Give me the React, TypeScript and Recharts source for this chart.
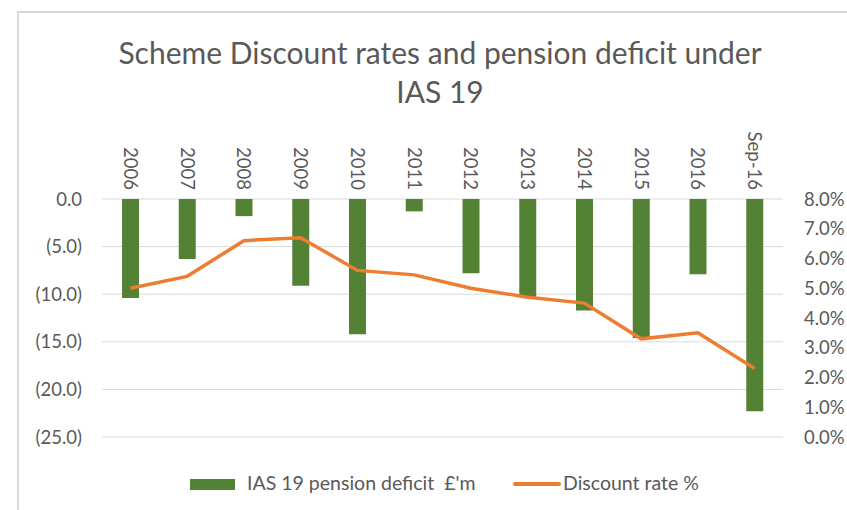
import React from 'react';
import { ComposedChart, Bar, Line, XAxis, YAxis, CartesianGrid } from 'recharts';

const years = ['2006', '2007', '2008', '2009', '2010', '2011', '2012', '2013', '2014', '2015', '2016', 'Sep-16'];
const deficit = [-10.4, -6.3, -1.8, -9.1, -14.2, -1.3, -7.8, -10.3, -11.7, -14.6, -7.9, -22.3];
const discountRate = [5.0, 5.4, 6.6, 6.7, 5.6, 5.45, 5.0, 4.7, 4.5, 3.3, 3.5, 2.3];
const leftTicks = [0, -5, -10, -15, -20, -25];
const rightTicks = [0, 1, 2, 3, 4, 5, 6, 7, 8];

const FONT = 'Lato, "Open Sans", sans-serif';
const GREY = '#595959';
const GREEN = '#548235';
const ORANGE = '#ED7D31';

const chartData = years.map((year, i) => ({
  year,
  deficit: deficit[i],
  rate: discountRate[i],
}));

const fmtLeft = (v: number) => (v === 0 ? '0.0' : `(${Math.abs(v).toFixed(1)})`);
const fmtRight = (v: number) => `${v.toFixed(1)}%`;

const TopTick = ({ x, y, payload }: any) => (
  <g transform={`translate(${x},${y - 9})`}>
    <text transform="rotate(90)" textAnchor="end" dy="0.35em" fill={GREY} fontSize={18.5} fontFamily={FONT}>
      {payload.value}
    </text>
  </g>
);

const App = () => {
  const tickStyle = { fill: GREY, fontSize: 18.5, fontFamily: FONT };
  return (
    <div style={{ position: 'absolute', left: 0, top: 0, width: 847, height: 510, background: '#fff', overflow: 'hidden' }}>
      <div style={{ position: 'absolute', left: 17, top: 11, width: 840, height: 510, borderLeft: '2px solid #d9d9d9', borderTop: '2px solid #d9d9d9' }} />
      <div style={{ position: 'absolute', left: 0, top: 33, width: 880, textAlign: 'center', color: GREY, fontFamily: FONT, fontSize: 30, lineHeight: '39px' }}>
        Scheme Discount rates and pension deficit under
        <br />
        IAS 19
      </div>
      <ComposedChart width={847} height={510} data={chartData} margin={{ top: 119, right: 0, bottom: 73, left: 0 }} style={{ position: 'absolute', left: 0, top: 0 }}>
        <CartesianGrid yAxisId="left" vertical={false} stroke="#d9d9d9" />
        <XAxis dataKey="year" orientation="top" height={80} axisLine={false} tickLine={false} tickSize={0} tickMargin={0} interval={0} tick={<TopTick />} />
        <YAxis yAxisId="left" width={102} domain={[-25, 0]} ticks={leftTicks} tickFormatter={fmtLeft} axisLine={false} tickLine={false} tickSize={0} tickMargin={20} tick={tickStyle} />
        <YAxis yAxisId="right" orientation="right" width={64} domain={[0, 8]} ticks={rightTicks} tickFormatter={fmtRight} axisLine={false} tickLine={false} tickSize={0} tickMargin={21} tick={{ ...tickStyle, textAnchor: 'start' }} />
        <Bar yAxisId="left" dataKey="deficit" fill={GREEN} barSize={17} isAnimationActive={false} />
        <Line yAxisId="right" dataKey="rate" stroke={ORANGE} strokeWidth={3.5} dot={false} isAnimationActive={false} />
      </ComposedChart>
      <div style={{ position: 'absolute', left: 190, top: 479, width: 45, height: 11, background: GREEN }} />
      <div style={{ position: 'absolute', left: 247, top: 471, color: GREY, fontFamily: FONT, fontSize: 19.5, whiteSpace: 'nowrap' }}>
        IAS 19 pension deficit&nbsp; £'m
      </div>
      <div style={{ position: 'absolute', left: 513, top: 482, width: 48, height: 4, borderRadius: 2, background: ORANGE }} />
      <div style={{ position: 'absolute', left: 563, top: 471, color: GREY, fontFamily: FONT, fontSize: 19.5, whiteSpace: 'nowrap' }}>
        Discount rate %
      </div>
    </div>
  );
};

export default App;
